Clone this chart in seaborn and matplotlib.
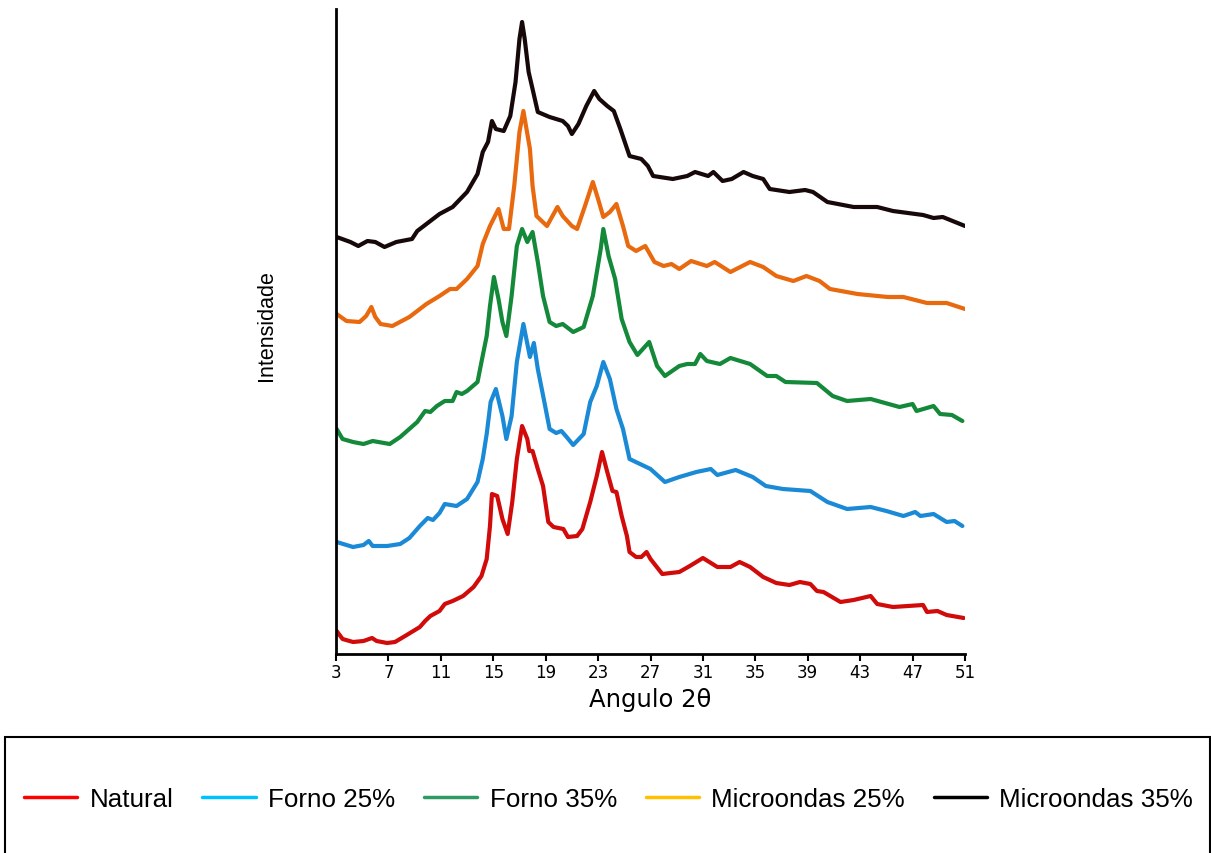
import matplotlib
matplotlib.use("Agg")
import numpy as np
import pandas as pd
import matplotlib.pyplot as plt
import seaborn as sns
from matplotlib.lines import Line2D
from matplotlib.patches import Rectangle

# ---------------- data (arbitrary intensity units) ----------------
natural_theta = [3.05, 3.5, 4.3, 5.1, 5.75, 6.1, 6.9, 7.5, 8.4, 9.4, 9.8, 10.2, 10.9, 11.3, 11.9, 12.7,
                 13.5, 14.1, 14.5, 14.75, 14.9, 15.3, 15.7, 16.1, 16.45, 16.8, 17.2, 17.6, 17.75, 18.0,
                 18.4, 18.8, 19.2, 19.6, 20.35, 20.7, 21.4, 21.8, 22.4, 22.9, 23.3, 23.7, 24.1, 24.4,
                 24.8, 25.2, 25.4, 25.9, 26.3, 26.7, 27.0, 27.9, 29.2, 30.0, 31.0, 32.1, 33.1, 33.8,
                 34.6, 35.6, 36.6, 37.6, 38.4, 39.2, 39.7, 40.2, 41.5, 42.5, 43.8, 44.3, 45.5, 47.8,
                 48.1, 48.9, 49.6, 50.9]
natural_int = [23, 15, 12, 13, 16, 13, 11, 12, 19, 27, 33, 38, 43, 50, 53, 58, 67, 78, 95, 128,
               160, 158, 135, 120, 152, 195, 228, 215, 203, 203, 185, 168, 132, 127, 125, 117, 118, 125, 152, 178,
               202, 182, 163, 162, 138, 118, 102, 97, 97, 102, 95, 80, 82, 88, 96, 87, 87, 92, 87, 77,
               71, 69, 72, 70, 63, 62, 52, 54, 58, 50, 47, 49, 42, 43, 39, 36]

forno25_theta = [3.05, 4.3, 5.1, 5.5, 5.8, 6.9, 7.9, 8.6, 9.4, 10.0, 10.4, 10.9, 11.3, 12.2, 13.0,
                 13.8, 14.2, 14.5, 14.8, 15.2, 15.7, 16.0, 16.4, 16.8, 17.3, 17.8, 18.1, 18.4, 18.9,
                 19.3, 19.8, 20.2, 20.6, 21.1, 21.9, 22.4, 22.9, 23.4, 23.9, 24.4, 24.9, 25.4, 26.2,
                 27.0, 28.1, 29.2, 30.5, 31.6, 32.1, 33.5, 34.8, 35.8, 37.1, 39.2, 40.5, 42.0, 43.8,
                 45.0, 46.3, 47.2, 47.6, 48.6, 49.6, 50.2, 50.8]
forno25_int = [112, 107, 109, 113, 108, 108, 110, 116, 128, 136, 134, 141, 150, 148, 155,
               172, 195, 220, 252, 265, 238, 215, 238, 292, 330, 297, 311, 285, 252, 225,
               221, 223, 217, 209, 220, 252, 268, 292, 275, 245, 225, 195, 190, 185, 172,
               177, 182, 185, 179, 184, 177, 168, 165, 163, 152, 145, 147, 143, 138, 142,
               138, 140, 132, 133, 128]

forno35_theta = [3.05, 3.5, 4.3, 5.1, 5.8, 7.1, 7.9, 9.2, 9.8, 10.2, 10.7, 11.3, 11.9, 12.2, 12.6,
                 13.0, 13.8, 14.1, 14.5, 14.75, 15.05, 15.4, 15.7, 16.0, 16.4, 16.8, 17.2, 17.6, 18.0,
                 18.4, 18.8, 19.3, 19.8, 20.3, 21.1, 21.9, 22.6, 23.2, 23.4, 23.8, 24.3, 24.8, 25.4,
                 26.0, 26.9, 27.5, 28.1, 29.2, 29.8, 30.4, 30.8, 31.3, 32.3, 33.1, 34.6, 35.9, 36.6,
                 37.3, 39.7, 40.9, 42.0, 43.8, 46.0, 47.0, 47.3, 48.6, 49.1, 50.0, 50.8]
forno35_int = [225, 215, 212, 210, 213, 210, 217, 232, 243, 242, 248, 253, 253, 262, 260,
               263, 272, 292, 318, 348, 377, 355, 332, 318, 358, 408, 425, 412, 422, 392,
               358, 332, 328, 330, 322, 327, 358, 405, 425, 398, 375, 335, 312, 299, 312,
               288, 278, 288, 290, 290, 300, 293, 290, 296, 290, 278, 278, 272, 271, 258,
               253, 255, 247, 250, 243, 248, 240, 239, 233]

micro25_theta = [3.05, 3.8, 4.8, 5.3, 5.7, 6.0, 6.4, 7.3, 8.6, 9.9, 10.9, 11.7, 12.2, 13.0, 13.8,
                 14.2, 14.75, 15.4, 15.8, 16.2, 16.6, 17.0, 17.3, 17.8, 18.0, 18.3, 19.1, 19.9, 20.3,
                 21.0, 21.4, 22.0, 22.6, 23.0, 23.4, 23.9, 24.4, 24.9, 25.3, 25.9, 26.6, 27.3, 28.0,
                 28.6, 29.2, 30.1, 31.3, 31.9, 33.1, 34.6, 35.6, 36.6, 37.9, 38.9, 39.9, 40.7, 42.8,
                 45.1, 46.3, 48.1, 49.6, 51.0]
micro25_int = [340, 333, 332, 338, 347, 337, 330, 328, 337, 350, 358, 365, 365, 375, 388,
               410, 428, 445, 425, 425, 468, 522, 543, 505, 468, 438, 428, 447, 438, 428,
               425, 448, 472, 455, 437, 442, 450, 428, 408, 403, 408, 392, 388, 390, 385,
               393, 388, 392, 382, 392, 387, 378, 373, 378, 373, 365, 360, 357, 357, 351,
               351, 345]

micro35_theta = [3.05, 4.1, 4.7, 5.4, 6.0, 6.7, 7.6, 8.8, 9.2, 10.2, 10.9, 11.9, 13.0, 13.8, 14.2,
                 14.6, 14.9, 15.2, 15.8, 16.3, 16.7, 17.0, 17.2, 17.4, 17.7, 18.0, 18.4, 19.3, 20.3,
                 20.7, 21.0, 21.5, 22.1, 22.7, 23.1, 23.7, 24.2, 24.7, 25.4, 26.3, 26.8, 27.2, 28.7,
                 29.8, 30.4, 31.4, 31.8, 32.5, 33.2, 34.1, 34.8, 35.6, 36.1, 37.6, 38.8, 39.4, 40.5,
                 42.5, 44.3, 45.5, 47.8, 48.6, 49.3, 51.0]
micro35_int = [417, 412, 408, 413, 412, 407, 412, 415, 423, 433, 440, 447, 462, 480, 502,
               512, 533, 525, 523, 538, 572, 615, 632, 615, 582, 565, 542, 537, 533, 528,
               520, 530, 548, 563, 555, 548, 543, 525, 498, 495, 488, 478, 475, 478, 482,
               478, 482, 473, 475, 482, 478, 475, 465, 462, 464, 462, 452, 447, 447, 443,
               439, 436, 437, 428]

series_names = ["Natural", "Forno 25%", "Forno 35%", "Microondas 25%", "Microondas 35%"]
x_ticks = [3, 7, 11, 15, 19, 23, 27, 31, 35, 39, 43, 47, 51]

line_colors = ["#d10a0a", "#1b8ad6", "#14893a", "#e8690e", "#170909"]
legend_colors = ["#ff0000", "#00c0ff", "#2f9a63", "#ffc000", "#000000"]

# ---------------- build long table ----------------
thetas = [natural_theta, forno25_theta, forno35_theta, micro25_theta, micro35_theta]
ints = [natural_int, forno25_int, forno35_int, micro25_int, micro35_int]
frames = []
for name, t, v in zip(series_names, thetas, ints):
    frames.append(pd.DataFrame({"theta": t, "intensity": v, "serie": name}))
df = pd.concat(frames, ignore_index=True)

# ---------------- plot ----------------
sns.set_theme(style="white")
plt.rcParams["font.family"] = ["Liberation Sans", "DejaVu Sans"]
plt.rcParams["text.color"] = "black"

W, H = 1211, 854
fig = plt.figure(figsize=(W / 100, H / 100), dpi=100)
ax = fig.add_axes([336 / W, 1 - 655 / H, (965 - 336) / W, (655 - 10) / H])

sns.lineplot(data=df, x="theta", y="intensity", hue="serie", hue_order=series_names,
             palette=dict(zip(series_names, line_colors)), estimator=None, sort=False,
             linewidth=3.0, legend=False, ax=ax)
for ln in ax.get_lines():
    ln.set_solid_joinstyle("round")
    ln.set_solid_capstyle("round")

ax.set_xlim(3, 51)
ax.set_ylim(0, 645)
ax.set_yticks([])
ax.set_xticks(x_ticks)
ax.set_xticklabels([str(t) for t in x_ticks], fontfamily="DejaVu Sans", fontsize=12, color="black")
ax.tick_params(axis="x", bottom=True, direction="out", length=5, width=1.5, pad=1.5, colors="black")

for s in ["top", "right"]:
    ax.spines[s].set_visible(False)
for s in ["left", "bottom"]:
    ax.spines[s].set_visible(True)
    ax.spines[s].set_color("black")
    ax.spines[s].set_linewidth(2)

ax.set_xlabel("Angulo 2θ", fontfamily="DejaVu Sans", fontsize=17.5, color="black", labelpad=4)
ax.set_ylabel("Intensidade", fontsize=15.5, color="black", va="center")
ax.yaxis.set_label_coords((267 - 336) / (965 - 336), (655 - 326) / (655 - 10))

handles = [Line2D([], [], color=c, linewidth=2.5) for c in legend_colors]
leg = fig.legend(handles, series_names, loc="center left", bbox_to_anchor=(24 / W, 1 - 800 / H),
                 ncol=5, frameon=False, fontsize=18.7, handlelength=2.05, handletextpad=0.47,
                 columnspacing=1.12, borderpad=0, borderaxespad=0)
for t in leg.get_texts():
    t.set_color("black")

fig.add_artist(Rectangle((5 / W, -0.02), (1210 - 5) / W, (854 - 738) / H + 0.02,
                         transform=fig.transFigure, fill=False, edgecolor="black", linewidth=1.5))

fig.savefig("out.png", dpi=100)
